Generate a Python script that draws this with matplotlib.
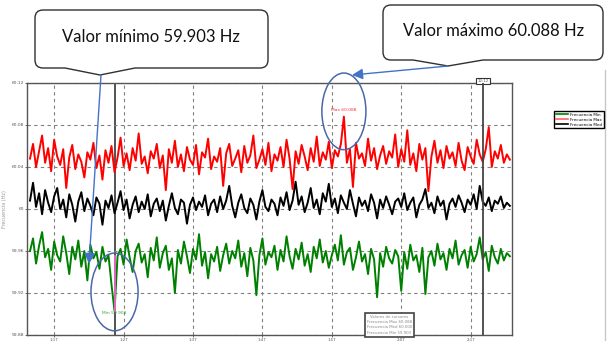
import numpy as np
import matplotlib
matplotlib.use("Agg")
import matplotlib.pyplot as plt
from matplotlib.patches import Ellipse, PathPatch
from matplotlib.path import Path
from matplotlib.lines import Line2D

# desviacion respecto a 60 Hz, en mHz (una muestra cada ~3 px)
freq_max_mhz = [
    48, 62, 40, 55, 70, 44, 58, 36, 66, 50, 42, 57, 20, 49, 61, 38, 52, 45, 30, 54,
    47, 63, 39, 51, 28, 56, 44, 60, 35, 49, 68, 41, 53, 37, 58, 46, 72, 43, 50, 34,
    55, 48, 62, 39, 51, 18, 57, 44, 65, 40, 52, 36, 59, 47, 42, 61, 33, 54, 49, 67,
    38, 50, 45, 58, 22, 53, 62, 41, 48, 56, 35, 60, 44, 51, 70, 39, 47, 57, 42, 63,
    36, 52, 46, 59, 40, 66, 48, 19, 55, 43, 61, 50, 37, 58, 45, 69, 41, 54, 47, 64,
    39, 56, 50, 62, 88, 44, 57, 21, 63, 48, 53, 41, 67, 46, 58, 38, 51, 60, 43, 55,
    49, 71, 40, 57, 45, 75, 42, 53, 36, 62, 47, 58, 17, 50, 65, 44, 56, 39, 60, 48,
    54, 41, 63, 46, 37, 59, 50, 43, 66, 52, 45, 57, 78, 40, 55, 48, 61, 44, 52, 47,
]
freq_med_mhz = [
    8, 25, 2, 15, -5, 18, 6, -3, 12, 20, 0, 9, -8, 14, 4, -12, 7, 16, -2, 10,
    3, -6, 11, 5, -15, 8, 1, 13, -4, 6, 17, -1, 9, -9, 4, 12, -3, 7, 0, 14,
    -7, 5, 10, -2, 8, -11, 3, 15, 1, -5, 9, 6, -14, 4, 11, -1, 7, 2, 13, -6,
    5, 9, -3, 12, 0, 8, 22, 3, -8, 6, 14, 1, -4, 10, 4, -10, 7, 18, 2, -2,
    9, 5, -6, 11, 3, 16, -1, 8, 26, 4, 12, -3, 6, 20, 1, 9, -5, 15, 7, 24,
    2, 10, -4, 13, 6, 0, 18, 5, -7, 11, 3, 8, -2, 14, 6, -9, 9, 1, 12, 4,
    -5, 7, 10, 2, 15, -1, 6, 11, -8, 4, 9, 19, 1, 6, -4, 12, 3, 8, -10, 5,
    10, 2, 13, 6, -3, 9, 4, 14, 0, 22, 7, 3, 11, -2, 8, 5, 12, 1, 6, 3,
]
freq_min_mhz = [
    -40, -28, -52, -35, -22, -46, -38, -58, -31, -44, -50, -26, -42, -62, -36, -48, -30, -55, -40, -68,
    -34, -47, -41, -57, -36, -50, -44, -72, -97, -45, -38, -53, -29, -46, -60, -40, -33, -51, -43, -65,
    -37, -49, -27, -56, -42, -35, -58, -47, -80, -39, -52, -31, -45, -61, -38, -48, -24, -54, -41, -66,
    -43, -50, -36, -59, -44, -33, -52, -40, -47, -30, -55, -42, -64, -37, -49, -82, -44, -28, -53, -41,
    -46, -35, -58, -39, -50, -26, -45, -57, -38, -48, -32, -54, -43, -60, -36, -47, -29, -51, -40, -56,
    -44, -34, -49, -25, -53, -41, -37, -58, -46, -31, -50, -43, -62, -38, -48, -84, -42, -55, -36, -47,
    -52, -39, -45, -78, -41, -57, -34, -49, -44, -60, -37, -81, -46, -40, -54, -33, -48, -42, -58, -38,
    -47, -30, -53, -44, -39, -56, -36, -50, -43, -27, -48, -41, -59, -35, -46, -52, -38, -49, -42, -45,
]

x_ticks = [8, 31, 54, 77, 100, 123, 146]
x_labels = ["1:17", "1:27", "1:37", "1:47", "1:57", "2:07", "2:17"]
y_ticks = [59.88, 59.92, 59.96, 60.0, 60.04, 60.08, 60.12]
y_labels = ["59.88", "59.92", "59.96", "60", "60.04", "60.08", "60.12"]
cursor_2 = 150

f_max = 60 + np.array(freq_max_mhz) / 1000
f_med = 60 + np.array(freq_med_mhz) / 1000
f_min = 60 + np.array(freq_min_mhz) / 1000
t = np.arange(len(f_max))

W, H = 609, 341
fig = plt.figure(figsize=(W / 100, H / 100), dpi=100)
ax = fig.add_axes([27 / W, 1 - 335 / H, 485 / W, 252 / H])

ax.plot(t, f_max, color="#ff0000", lw=1.4, label="Frecuencia Max")
ax.plot(t, f_med, color="#000000", lw=1.4, label="Frecuencia Med")
ax.plot(t, f_min, color="#008000", lw=1.4, label="Frecuencia Min")

ax.set_xlim(-1, 159.7)
ax.set_ylim(59.88, 60.12)
ax.set_xticks(x_ticks)
ax.set_xticklabels(x_labels, fontsize=2.8, color="#444444")
ax.set_yticks(y_ticks)
ax.set_yticklabels(y_labels, fontsize=3.2, color="#666666")
ax.tick_params(length=1.5, width=0.6, pad=0.6, colors="#555555")
ax.grid(True, color="#808080", linestyle=(0, (3, 3)), linewidth=0.8)
for s in ax.spines.values():
    s.set_color("#555555")
    s.set_linewidth(1.0)
ax.set_ylabel("Frecuencia (Hz)", fontsize=3.5, color="#999999", labelpad=3)

# cursores
i_min = int(np.argmin(f_min))
i_max = int(np.argmax(f_max))
ax.axvline(i_min, color="#444444", lw=1.3, zorder=1)
ax.axvline(cursor_2, color="#444444", lw=1.3, zorder=4)
ax.text(cursor_2, 60.12, "12:12", ha="center", va="bottom", fontsize=2.8,
        color="#555555", bbox=dict(boxstyle="square,pad=0.3", fc="white", ec="#333333", lw=0.8))
ax.plot([i_min, i_min], [59.955, f_min[i_min]], color="#ff66dd", lw=1.2, zorder=5)
ax.text(i_min, f_min[i_min] - 0.002, "Min 59.903", color="#33aa33", fontsize=3.2,
        ha="center", va="center", zorder=6)
ax.text(i_max, f_max[i_max] + 0.006, "Max 60.088", color="#ff3333", fontsize=3.2,
        ha="center", va="center", zorder=6)

# recuadro de valores
ax.text(0.747, 0.0, "Valores de cursores\nFrecuencia Max 60.088\nFrecuencia Med 60.000\nFrecuencia Min 59.903",
        transform=ax.transAxes, ha="center", va="bottom", fontsize=2.8, color="#888888",
        linespacing=1.5, bbox=dict(boxstyle="square,pad=0.4", fc="white", ec="#444444", lw=1.2),
        zorder=7)

# elipses
ax.add_patch(Ellipse((i_max, f_max[i_max] + 0.005), 14.6, 0.073, fill=False,
                     ec="#4a68a8", lw=1.1, clip_on=False, zorder=8))
ax.add_patch(Ellipse((i_min, f_min[i_min] + 0.018), 15.6, 0.074, fill=False,
                     ec="#4a68a8", lw=1.1, clip_on=False, zorder=8))

leg = fig.legend(handles=[Line2D([], [], color="#008000", lw=1.2),
                          Line2D([], [], color="#ff6060", lw=1.2),
                          Line2D([], [], color="#000000", lw=1.2)],
                 labels=["Frecuencia Min", "Frecuencia Max", "Frecuencia Med"],
                 loc="upper left", bbox_to_anchor=(552 / W, 1 - 109 / H), fontsize=3,
                 fancybox=False, edgecolor="#000000", framealpha=1, borderpad=0.4,
                 labelspacing=0.25, handlelength=3.0, handletextpad=0.5)
leg.get_frame().set_linewidth(1.0)

# capa de anotaciones en pixeles
ov = fig.add_axes([0, 0, 1, 1])
ov.set_xlim(0, W)
ov.set_ylim(H, 0)
ov.axis("off")
ov.patch.set_alpha(0)

ov.plot([605, 605], [70, H], color="#c8c8c8", lw=1)


def bubble(x0, y0, x1, y1, tx, ty, r=8, w=35):
    verts = [(x0 + r, y0), (x1 - r, y0), (x1, y0), (x1, y0 + r), (x1, y1 - r),
             (x1, y1), (x1 - r, y1), (tx + w, y1), (tx, ty), (tx - w, y1),
             (x0 + r, y1), (x0, y1), (x0, y1 - r), (x0, y0 + r), (x0, y0), (x0 + r, y0)]
    codes = [Path.MOVETO, Path.LINETO, Path.CURVE3, Path.CURVE3, Path.LINETO,
             Path.CURVE3, Path.CURVE3, Path.LINETO, Path.LINETO, Path.LINETO,
             Path.LINETO, Path.CURVE3, Path.CURVE3, Path.LINETO, Path.CURVE3, Path.CURVE3]
    ov.add_patch(PathPatch(Path(verts, codes), fc="white", ec="#303030", lw=1.0))


bubble(35, 10, 268, 68, 100, 75)
ov.text(151, 37, "Valor mínimo 59.903 Hz", fontsize=12, family="Lato",
        ha="center", va="center", color="#111111")
bubble(383, 5, 603, 60, 448, 66)
ov.text(494, 31, "Valor máximo 60.088 Hz", fontsize=12, family="Lato",
        ha="center", va="center", color="#111111")

arrow = dict(arrowstyle="-|>", color="#4472c4", lw=1.0, mutation_scale=16, shrinkA=0, shrinkB=0)
ov.annotate("", xy=(89, 264), xytext=(101, 75), arrowprops=arrow)
ov.annotate("", xy=(352, 75), xytext=(448, 66), arrowprops=arrow)

fig.savefig("out.png", dpi=100)
